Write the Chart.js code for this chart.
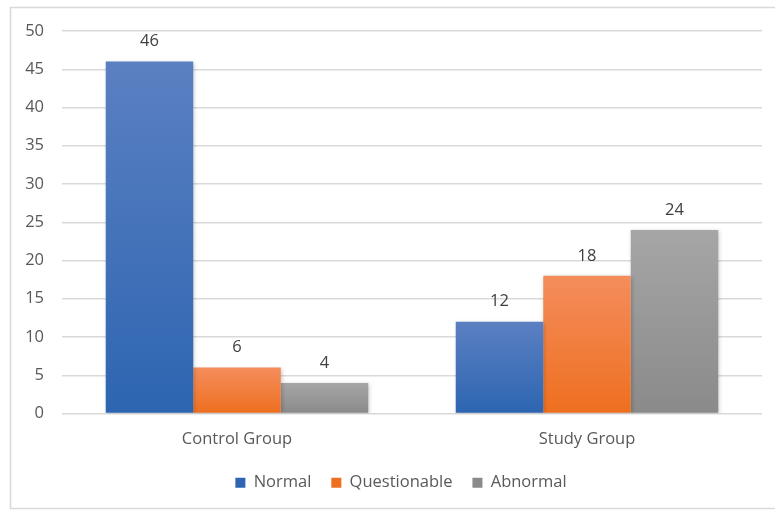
<!DOCTYPE html>
<html>
<head>
<meta charset="utf-8">
<script src="https://cdn.jsdelivr.net/npm/chart.js@4.4.1/dist/chart.umd.min.js"></script>
<style>
html,body{margin:0;padding:0;background:#fff;}
#wrap{width:775px;height:511px;position:relative;}
</style>
</head>
<body>
<div id="wrap"><canvas id="c" width="775" height="511"></canvas></div>
<script>
const categories = ["Control Group", "Study Group"];
const seriesNames = ["Normal", "Questionable", "Abnormal"];
const normalValues = [46, 12];
const questionableValues = [6, 18];
const abnormalValues = [4, 24];
const yTicks = [0, 5, 10, 15, 20, 25, 30, 35, 40, 45, 50];

const FONT = "'Open Sans', sans-serif";
const FS = 16.5;
const gradients = [
  ["#5b80c2", "#2d65b1"],
  ["#f48d5c", "#ee6f1f"],
  ["#a6a6a6", "#8a8a8a"]
];
const solid = ["#4472c4", "#ed7d31", "#a5a5a5"];

function gradFill(dsIndex) {
  return function(ctx) {
    const chart = ctx.chart;
    if (!chart.chartArea || ctx.type !== 'data') return solid[dsIndex];
    const ys = chart.scales.y;
    const v = ctx.raw;
    const top = ys.getPixelForValue(v);
    const bot = ys.getPixelForValue(0);
    if (!isFinite(top) || !isFinite(bot) || top === bot) return solid[dsIndex];
    const g = chart.ctx.createLinearGradient(0, top, 0, bot);
    g.addColorStop(0, gradients[dsIndex][0]);
    g.addColorStop(1, gradients[dsIndex][1]);
    return g;
  };
}

const frame = {
  id: 'frame',
  beforeDraw(chart) {
    const c = chart.ctx;
    c.save();
    c.fillStyle = '#fff';
    c.fillRect(0, 0, chart.width, chart.height);
    c.strokeStyle = '#d9d9d9';
    c.lineWidth = 1.5;
    c.strokeRect(10.5, 7.5, 790, 501);
    c.restore();
  }
};

const legendShift = {
  id: 'legendShift',
  afterLayout(chart) {
    const lg = chart.legend;
    if (lg) { lg.left += 20; lg.right += 20; lg.top += 4; lg.bottom += 4; }
  }
};

const shadow = {
  id: 'shadow',
  beforeDatasetDraw(chart) {
    const c = chart.ctx;
    c.save();
    c.shadowColor = 'rgba(0,0,0,0.22)';
    c.shadowBlur = 4;
    c.shadowOffsetX = 1;
    c.shadowOffsetY = 1;
  },
  afterDatasetDraw(chart) {
    chart.ctx.restore();
  }
};

const valueLabels = {
  id: 'valueLabels',
  afterDatasetsDraw(chart) {
    const c = chart.ctx;
    c.save();
    c.font = FS + "px " + FONT;
    c.fillStyle = '#404040';
    c.textAlign = 'center';
    c.textBaseline = 'middle';
    chart.data.datasets.forEach((ds, i) => {
      const meta = chart.getDatasetMeta(i);
      meta.data.forEach((bar, j) => {
        c.fillText(String(ds.data[j]), bar.x, bar.y - 20);
      });
    });
    c.restore();
  }
};

new Chart(document.getElementById('c'), {
  type: 'bar',
  data: {
    labels: categories,
    datasets: [
      { label: seriesNames[0], data: normalValues, backgroundColor: gradFill(0) },
      { label: seriesNames[1], data: questionableValues, backgroundColor: gradFill(1) },
      { label: seriesNames[2], data: abnormalValues, backgroundColor: gradFill(2) }
    ]
  },
  options: {
    responsive: false,
    animation: false,
    devicePixelRatio: 1,
    layout: { padding: { top: 31, right: 13, bottom: 14, left: 0 } },
    datasets: { bar: { categoryPercentage: 0.75, barPercentage: 1.0 } },
    scales: {
      x: {
        grid: { display: false, drawTicks: false },
        border: { display: false },
        ticks: { color: '#595959', font: { family: FONT, size: FS }, padding: 16 },
        afterFit(s) { s.height = 37; }
      },
      y: {
        min: 0, max: 50,
        afterBuildTicks(s) { s.ticks = yTicks.map(v => ({ value: v })); },
        grid: { color: '#d9d9d9', lineWidth: 1.5, drawTicks: false },
        border: { display: false },
        ticks: { color: '#595959', font: { family: FONT, size: FS }, padding: 18 },
        afterFit(s) { s.width = 62; }
      }
    },
    plugins: {
      legend: {
        position: 'bottom',
        labels: {
          color: '#595959',
          font: { family: FONT, size: FS },
          boxWidth: 10, boxHeight: 10,
          padding: 20,
          useBorderRadius: false
        }
      },
      tooltip: { enabled: false }
    }
  },
  plugins: [frame, legendShift, shadow, valueLabels]
});
</script>
</body>
</html>
